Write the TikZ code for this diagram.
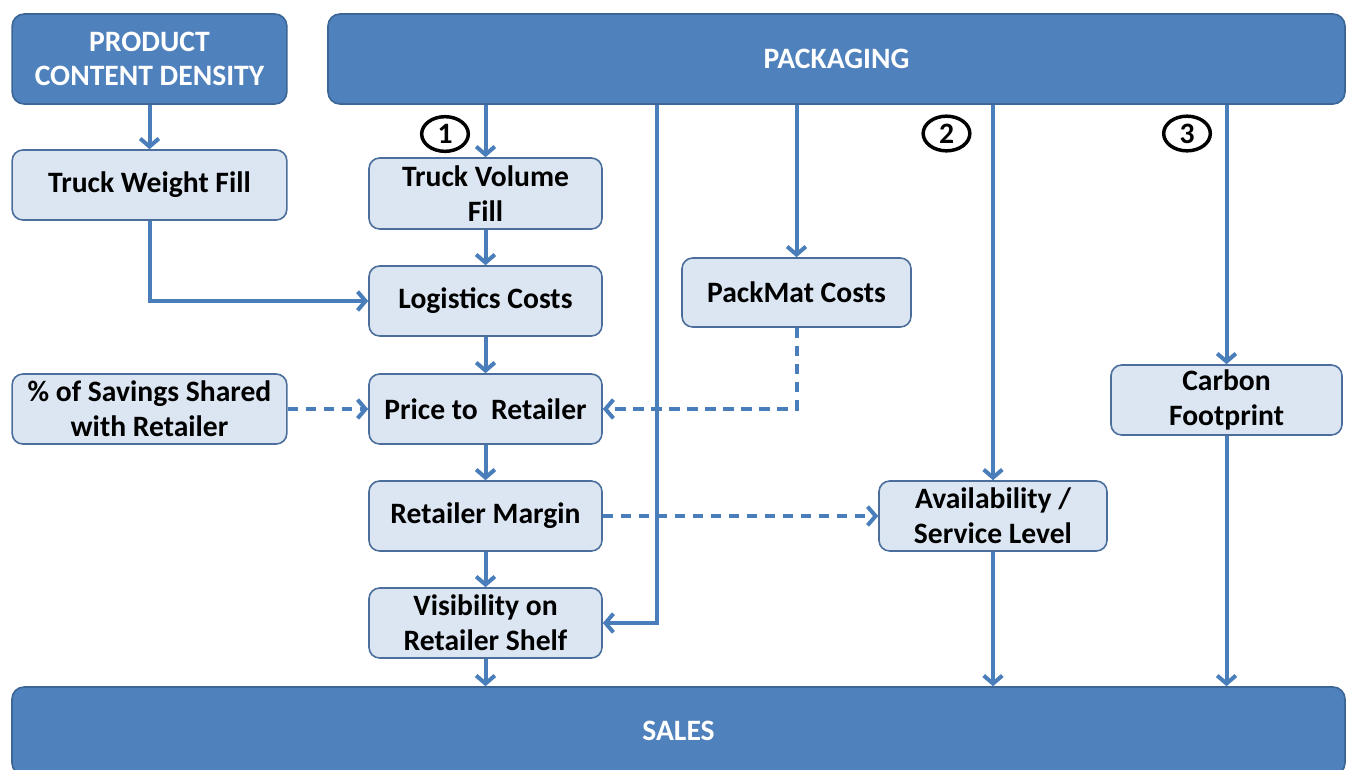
\documentclass[tikz,border=0pt]{standalone}
\usepackage{fontspec}
\setmainfont{Carlito}
\usetikzlibrary{arrows.meta,positioning,shapes.geometric}
\definecolor{darkblue}{HTML}{4F81BD}
\definecolor{darkedge}{HTML}{3B6696}
\definecolor{lightblue}{HTML}{DCE6F2}
\definecolor{lightedge}{HTML}{4B6E9C}
\definecolor{flowblue}{HTML}{4A7EBB}
\newcommand{\boxfont}{\fontsize{22.2}{26}\selectfont\bfseries}
\tikzset{
  topbox/.style={rectangle,rounded corners=9pt,draw=darkedge,line width=1.2pt,fill=darkblue,text=white,font=\boxfont,align=center,inner sep=0pt},
  subbox/.style={rectangle,rounded corners=8pt,draw=lightedge,line width=1.2pt,fill=lightblue,text=black,font=\boxfont,align=center,inner sep=0pt},
  flow/.style={draw=flowblue,line width=3pt,-{Straight Barb[length=6pt,width=14pt]}},
  dashflow/.style={flow,dash pattern=on 8pt off 5.5pt},
  stepmark/.style={ellipse,draw=black,line width=2.6pt,minimum width=35pt,minimum height=26pt,inner sep=0pt,font=\boxfont}
}

\begin{document}
\begin{tikzpicture}[x=0.75pt,y=-0.75pt]
\useasboundingbox (0,0) rectangle (1352,769);
% top row
\node (pcd) [topbox,minimum width=206pt,minimum height=67.5pt] at (149.5,59) {PRODUCT\\CONTENT DENSITY};
\node (pkg) [topbox,minimum width=762.75pt,minimum height=67.5pt] at (836.5,59) {PACKAGING};
\node (sales) [topbox,minimum width=999.75pt,minimum height=66pt] at (678.5,731) {SALES};
%
\node (twf) [subbox,minimum width=206pt,minimum height=52.5pt] at (149.5,185) {Truck Weight Fill};
\node (sav) [subbox,minimum width=206pt,minimum height=52.5pt] at (149.5,409) {\% of Savings Shared\\with Retailer};
%
\node (tvf) [subbox,minimum width=174.75pt,minimum height=53.25pt] at (485.5,193.5) {Truck Volume\\Fill};
\node (lc) [subbox,minimum width=174.75pt,minimum height=52.5pt] at (485.5,301) {Logistics Costs};
\node (ptr) [subbox,minimum width=174.75pt,minimum height=52.5pt] at (485.5,409) {Price to~ Retailer};
\node (rm) [subbox,minimum width=174.75pt,minimum height=52.5pt] at (485.5,516) {Retailer Margin};
\node (vis) [subbox,minimum width=174.75pt,minimum height=52.5pt] at (485.5,623) {Visibility on\\Retailer Shelf};
%
\node (pmc) [subbox,minimum width=171.75pt,minimum height=51.75pt] at (796.5,292.5) {PackMat Costs};
\node (av) [subbox,minimum width=171pt,minimum height=52.5pt] at (993,516) {Availability /\\Service Level};
\node (cf) [subbox,minimum width=173.25pt,minimum height=52.5pt] at (1226.5,400) {Carbon\\Footprint};
%
\node (m1) [stepmark] at (445,134) {1};
\node (m2) [stepmark] at (946.5,133.5) {2};
\node (m3) [stepmark] at (1187,133.5) {3};
\coordinate (j1) at (657,0);
% solid flows
\draw[flow] (pcd) -- (twf);
\draw[flow] (pkg.south -| tvf.north) -- (tvf.north);
\draw[flow] (tvf) -- (lc);
\draw[flow] (lc) -- (ptr);
\draw[flow] (ptr) -- (rm);
\draw[flow] (rm) -- (vis);
\draw[flow] (vis.south) -- (vis.south |- sales.north);
\draw[flow] (twf.south) |- (lc.west);
\draw[flow] (pkg.south -| j1) |- (vis.east);
\draw[flow] (pkg.south -| pmc.north) -- (pmc.north);
\draw[flow] (pkg.south -| av.north) -- (av.north);
\draw[flow] (av.south) -- (av.south |- sales.north);
\draw[flow] (pkg.south -| cf.north) -- (cf.north);
\draw[flow] (cf.south) -- (cf.south |- sales.north);
% dashed flows
\draw[dashflow] (sav) -- (ptr);
\draw[dashflow] (pmc.south) |- (ptr.east);
\draw[dashflow] (rm) -- (av);
\end{tikzpicture}
\end{document}
